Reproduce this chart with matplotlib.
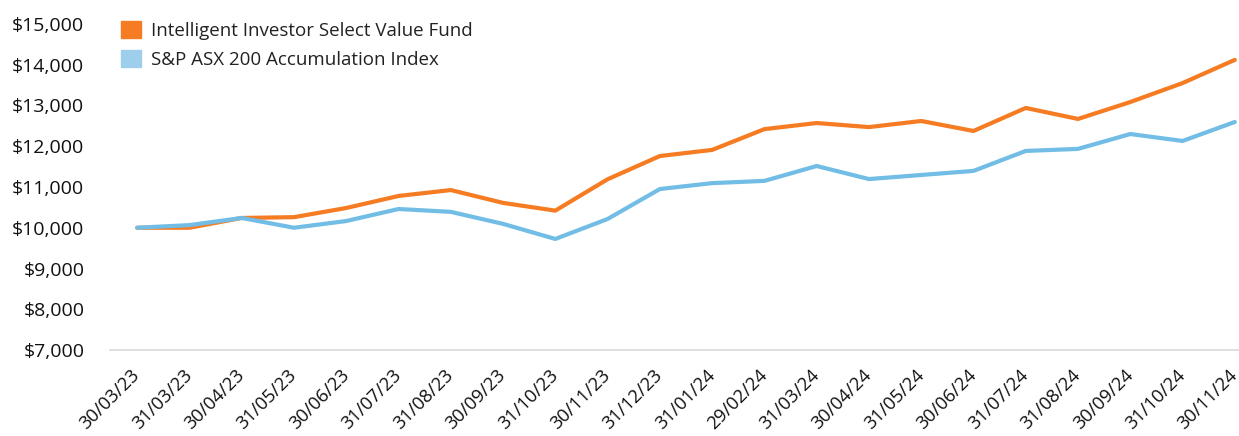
import matplotlib.pyplot as plt
from matplotlib.patches import Patch
from matplotlib.ticker import FuncFormatter

plt.rcParams['font.family'] = ['Open Sans', 'DejaVu Sans']

# Growth of $10,000
DATES = ['30/03/23', '31/03/23', '30/04/23', '31/05/23', '30/06/23', '31/07/23',
         '31/08/23', '30/09/23', '31/10/23', '30/11/23', '31/12/23', '31/01/24',
         '29/02/24', '31/03/24', '30/04/24', '31/05/24', '30/06/24', '31/07/24',
         '31/08/24', '30/09/24', '31/10/24', '30/11/24']
FUND = [10000, 10000, 10240, 10260, 10485, 10780, 10925, 10610, 10420, 11190, 11760,
        11910, 12420, 12570, 12470, 12620, 12375, 12940, 12670, 13085, 13550, 14120]
INDEX = [10000, 10065, 10240, 10000, 10165, 10460, 10390, 10095, 9725, 10215, 10950,
         11095, 11150, 11515, 11195, 11295, 11395, 11885, 11935, 12300, 12130, 12595]

FUND_NAME = 'Intelligent Investor Select Value Fund'
INDEX_NAME = 'S&P ASX 200 Accumulation Index'

ORANGE = '#F57C22'
BLUE = '#72BDE6'
BLUE_PATCH = '#9DCEEB'

fig = plt.figure(figsize=(12.39, 4.36), dpi=100)
ax = fig.add_axes([110 / 1239, 86 / 436, 1129 / 1239, 326 / 436])

x = range(len(DATES))
ax.plot(x, FUND, color=ORANGE, lw=3, solid_capstyle='round')
ax.plot(x, INDEX, color=BLUE, lw=3, solid_capstyle='round')

ax.set_ylim(7000, 15000)
ax.set_yticks(range(7000, 15001, 1000))
ax.yaxis.set_major_formatter(FuncFormatter(lambda v, p: f'${v:,.0f}'))
ax.set_xlim(-0.52, len(DATES) - 1 + 0.08)
ax.set_xticks(list(x))
ax.set_xticklabels(DATES, rotation=45, ha='right', va='center', rotation_mode='anchor')

ax.tick_params(axis='y', length=0, pad=18.5, labelsize=14, labelcolor='#111111')
ax.tick_params(axis='x', length=0, pad=16, labelsize=13.2, labelcolor='#111111')

for s in ['top', 'right', 'left']:
    ax.spines[s].set_visible(False)
ax.spines['bottom'].set_color('#D9D9D9')
ax.spines['bottom'].set_linewidth(1.2)

handles = [Patch(color=ORANGE, label=FUND_NAME), Patch(color=BLUE_PATCH, label=INDEX_NAME)]
leg = ax.legend(handles=handles, loc='upper left', bbox_to_anchor=(0.0, 1.045),
                frameon=False, fontsize=13.5, handlelength=1.05, handleheight=1.05,
                handletextpad=0.55, labelspacing=0.55, borderaxespad=0.2)
for t in leg.get_texts():
    t.set_color('#222222')

fig.savefig('out.png', dpi=100)
